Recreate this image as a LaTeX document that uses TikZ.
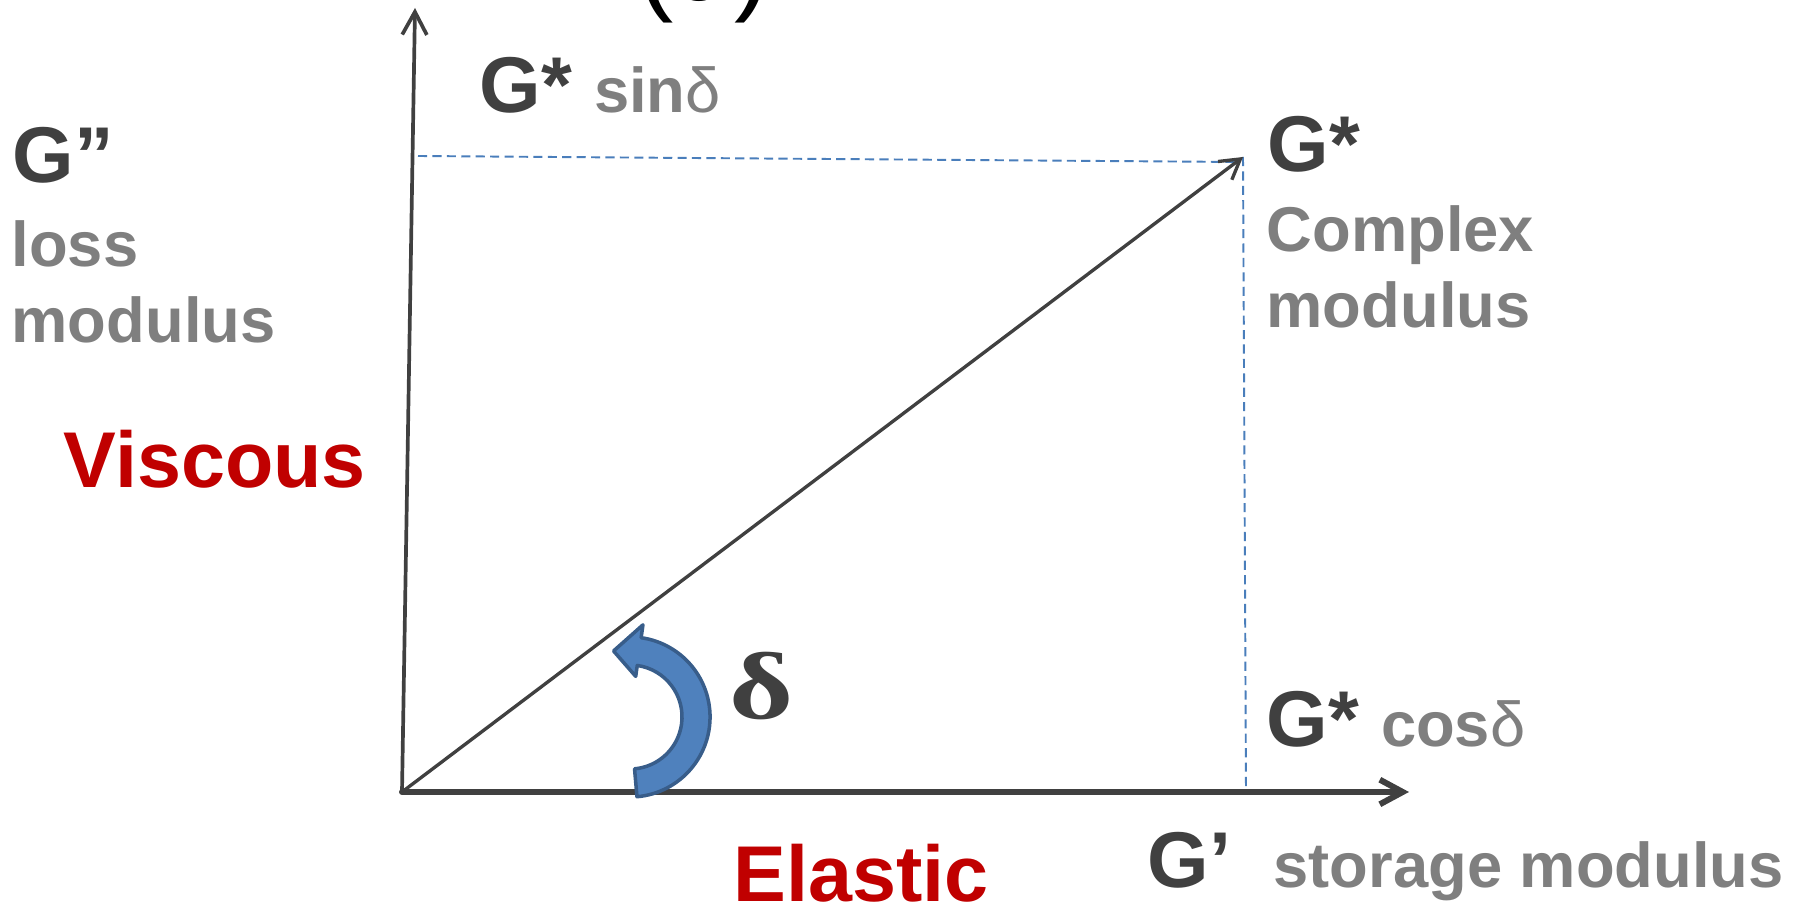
\documentclass[tikz,border=0pt]{standalone}
\usepackage{fontspec}
\setmainfont{Liberation Sans}
\newfontfamily\serifgreek{Liberation Serif}
\usepackage{xcolor}
\usetikzlibrary{positioning, calc, arrows.meta}

\definecolor{axisgray}{HTML}{404040}
\definecolor{labelgray}{HTML}{7F7F7F}
\definecolor{darkred}{HTML}{C00000}
\definecolor{arcblue}{HTML}{4F81BD}
\definecolor{arcedge}{HTML}{385D8A}
\definecolor{dashblue}{HTML}{4A7EBB}

\tikzset{
  bigtext/.style={anchor=base west, inner sep=0pt, text=axisgray, font=\fontsize{22.5}{26}\selectfont\bfseries},
  greytext/.style={anchor=base west, inner sep=0pt, text=labelgray, font=\fontsize{18}{22}\selectfont\bfseries},
  redtext/.style={bigtext, text=darkred},
  axisline/.style={axisgray, line cap=round, -{Straight Barb[length=6.5pt, width=7pt]}},
  guide/.style={dashblue, line width=0.55pt, dash pattern=on 2.6pt off 1.5pt}
}

\begin{document}
\begin{tikzpicture}[x=0.01cm, y=0.01cm]
  \useasboundingbox (0,0) rectangle (1808,912);

  % axes and vector
  \coordinate (O) at (402,120);
  \coordinate (ytop) at (415,904);
  \coordinate (xend) at (1409,120);
  \coordinate (gtip) at (1243,755);
  \coordinate (hleft) at (418,756);
  \coordinate (hright) at (1240,750);
  \coordinate (vfoot) at (1246,120);

  \draw[guide] (hleft) -- (hright);
  \draw[guide] (gtip) -- (vfoot);

  \draw[axisline, line width=1.05pt] (O) -- (ytop);
  \draw[axisline, line width=1.7pt] (O) -- (xend);
  \draw[axisline, line width=0.95pt, -{Straight Barb[length=5.5pt, width=6.5pt]}] (O) -- (gtip);

  % angle arrow
  \coordinate (ctr) at (630,195);
  \filldraw[fill=arcblue, draw=arcedge, line width=1pt, line join=round]
    ([shift={(-85:0.80cm)}]ctr) arc[start angle=-85, end angle=82, radius=0.80cm]
    -- ([shift={(82:0.93cm)}]ctr) -- ([shift={(104:0.68cm)}]ctr)
    -- ([shift={(82:0.41cm)}]ctr) -- ([shift={(82:0.52cm)}]ctr)
    arc[start angle=82, end angle=-85, radius=0.52cm] -- cycle;
  \node[anchor=base west, inner sep=0pt, text=axisgray, font=\fontsize{27}{30}\selectfont\serifgreek\bfseries] (delta) at (729,193) {\scalebox{1.3}[1]{δ}};

  % labels
  \node[anchor=base, inner sep=0pt, font=\fontsize{31}{36}\selectfont] (panel) at (704,911) {(d)};

  \node[bigtext] (gsin) at (479,799) {G* \textcolor{labelgray}{\fontsize{18}{22}\selectfont sin{\mdseries δ}}};

  \node[bigtext] (gstar) at (1267,740) {G*};
  \node[greytext] (complex) at (1266,660) {Complex};
  \node[greytext] (cmod) at (1266,584) {modulus};

  \node[bigtext] (gloss) at (12,729) {G”};
  \node[greytext] (loss) at (11,645) {loss};
  \node[greytext] (lmod) at (11,569) {modulus};
  \node[redtext] (viscous) at (63,424) {Viscous};

  \node[bigtext] (gcos) at (1266,165) {G* \textcolor{labelgray}{\fontsize{18}{22}\selectfont cos{\mdseries δ}}};

  \node[bigtext] (gprime) at (1147,24) {G’};
  \node[greytext] (storage) at (1273,24) {storage modulus};
  \node[redtext] (elastic) at (733,10) {Elastic};
\end{tikzpicture}
\end{document}
